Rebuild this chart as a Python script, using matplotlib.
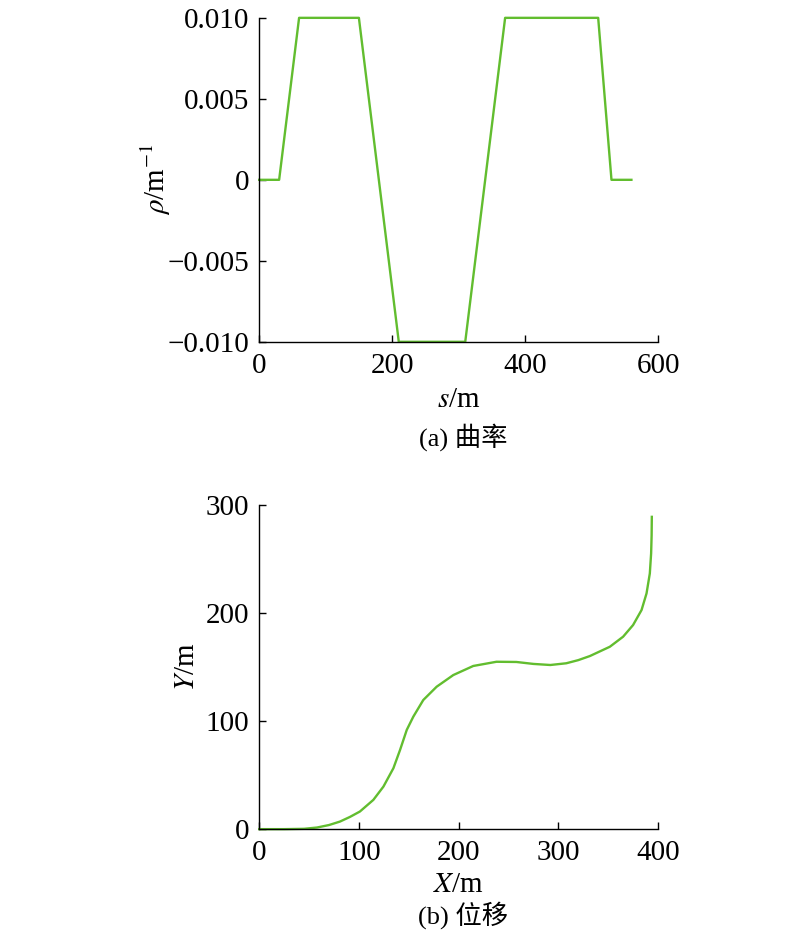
import matplotlib
matplotlib.use("Agg")
import matplotlib.pyplot as plt
from matplotlib.ticker import FixedLocator, FixedFormatter

# curvature profile (s in m, rho in 1/m)
s_vals = [0, 30, 60, 150, 210, 310, 370, 510, 530, 560]
rho_vals = [0, 0, 0.010, 0.010, -0.010, -0.010, 0.010, 0.010, 0, 0]

# trajectory
x_pos = [0, 25, 45, 58, 70, 81, 91, 101, 114.5, 124.6, 134.6, 141.3, 148,
         154.6, 164.6, 178, 194.7, 214.7, 238, 258, 275, 292, 308, 320,
         331.7, 351.7, 365, 375, 383.5, 388.5, 391.8, 393.1, 393.6, 393.8]
y_pos = [0, 0, 0.3, 1.5, 3.8, 7, 11.3, 16.3, 27.1, 39.4, 56.4, 73.4, 91.9,
         104.2, 119.6, 131.9, 142.7, 151.1, 155, 154.8, 153, 152, 153.6, 156.5,
         160.3, 168.9, 178.2, 189, 202.9, 218.3, 236.8, 255.3, 272, 289.2]

rho_ticks = [-0.010, -0.005, 0, 0.005, 0.010]
rho_labels = ["\u22120.010", "\u22120.005", "0", "0.005", "0.010"]

plt.rcParams["font.family"] = ["Liberation Serif", "Noto Sans CJK SC"]
plt.rcParams["mathtext.fontset"] = "stix"
plt.rcParams["font.size"] = 21

green = "#62bd2f"

fig = plt.figure(figsize=(8, 9.39), dpi=100)
ax1 = fig.add_axes([0.324, 0.636, 0.4985, 0.345])
ax2 = fig.add_axes([0.324, 0.117, 0.4985, 0.345])

for ax in (ax1, ax2):
    for side in ("top", "right"):
        ax.spines[side].set_visible(False)
    ax.spines["left"].set_linewidth(1.0)
    ax.spines["bottom"].set_linewidth(1.0)
    ax.tick_params(direction="in", length=5, width=1.0, labelsize=21)
    ax.tick_params(axis="x", pad=8)
    ax.tick_params(axis="y", pad=7)

ax1.plot(s_vals, rho_vals, color=green, lw=1.7, clip_on=False)
ax1.set_xlim(0, 600)
ax1.set_ylim(-0.010, 0.010)
ax1.xaxis.set_major_locator(FixedLocator([0, 200, 400, 600]))
ax1.yaxis.set_major_locator(FixedLocator(rho_ticks))
ax1.yaxis.set_major_formatter(FixedFormatter(rho_labels))
ax1.set_xlabel("$s$/m", fontsize=21, labelpad=6)
ax1.set_ylabel("$\\rho$/m$^{-1}$", fontsize=21, labelpad=-4)

ax2.plot(x_pos, y_pos, color=green, lw=1.7, clip_on=False,
         solid_joinstyle="round")
ax2.set_xlim(0, 400)
ax2.set_ylim(0, 300)
ax2.xaxis.set_major_locator(FixedLocator([0, 100, 200, 300, 400]))
ax2.yaxis.set_major_locator(FixedLocator([0, 100, 200, 300]))
ax2.set_xlabel("$X$/m", fontsize=21, labelpad=4)
ax2.set_ylabel("$Y$/m", fontsize=21, labelpad=4)

fig.text(0.579, 1 - 437 / 939, "(a) 曲率", ha="center", va="center", fontsize=19)
fig.text(0.579, 1 - 915 / 939, "(b) 位移", ha="center", va="center", fontsize=19)

fig.savefig("out.png", dpi=100)
